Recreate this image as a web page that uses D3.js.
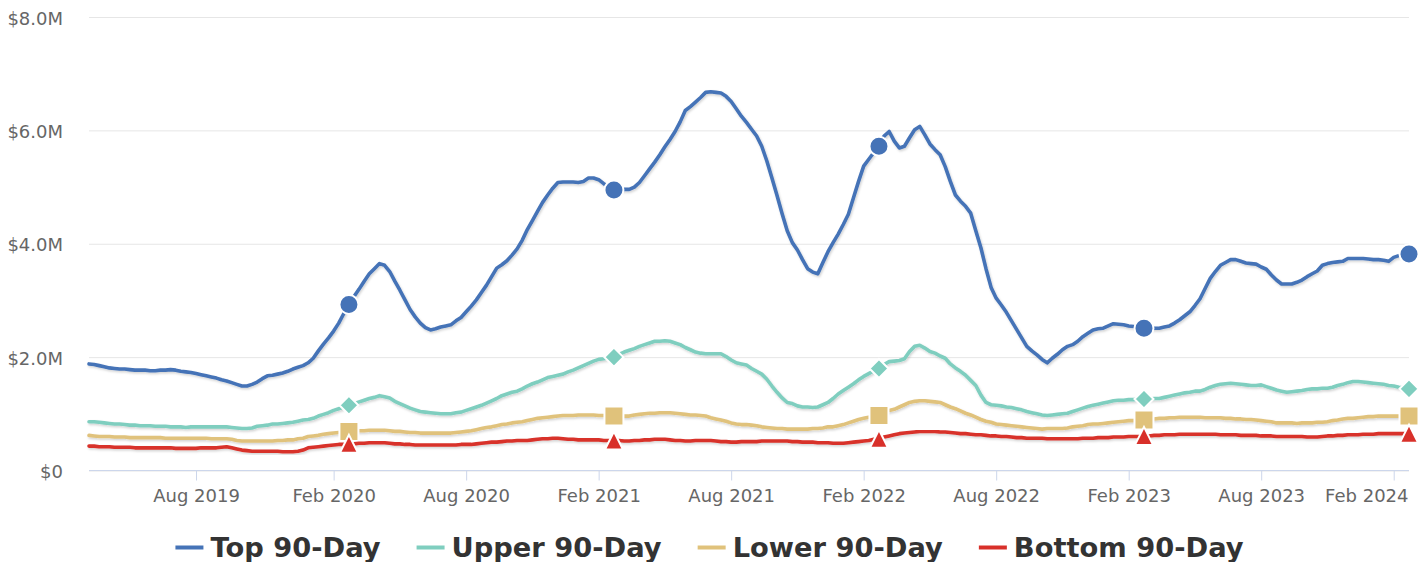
<!DOCTYPE html>
<html>
<head>
<meta charset="utf-8">
<script src="https://cdn.jsdelivr.net/npm/d3@7"></script>
<style>
  html, body { margin: 0; padding: 0; background: #ffffff; }
  svg { display: block; font-family: "DejaVu Sans", sans-serif; }
</style>
</head>
<body>
<svg id="chart" width="1419" height="562"></svg>
<script>
// Weekly 90-day rolling sales by tier, in millions of dollars (first week: 2019-03-07)
const firstWeek = "2019-03-07";

const top90 = [
  1.88,1.87,1.85,1.83,1.81,1.80,1.79,1.79,1.78,1.77,
  1.77,1.77,1.76,1.76,1.77,1.77,1.78,1.77,1.75,1.74,
  1.73,1.71,1.69,1.67,1.65,1.63,1.60,1.58,1.55,1.52,
  1.49,1.49,1.52,1.56,1.62,1.67,1.68,1.70,1.72,1.75,
  1.79,1.82,1.85,1.90,1.98,2.11,2.23,2.34,2.46,2.60,
  2.77,2.93,3.07,3.20,3.34,3.47,3.56,3.65,3.62,3.51,
  3.34,3.18,3.01,2.84,2.71,2.60,2.52,2.48,2.50,2.53,
  2.55,2.57,2.64,2.70,2.80,2.90,3.01,3.14,3.27,3.42,
  3.57,3.63,3.70,3.80,3.91,4.06,4.25,4.41,4.57,4.73,
  4.86,4.98,5.08,5.09,5.09,5.09,5.08,5.10,5.16,5.16,
  5.13,5.06,5.00,4.95,4.95,4.96,4.96,5.00,5.08,5.20,
  5.32,5.44,5.57,5.71,5.84,5.98,6.15,6.35,6.42,6.50,
  6.58,6.67,6.68,6.67,6.66,6.60,6.51,6.38,6.25,6.14,
  6.02,5.90,5.72,5.46,5.16,4.85,4.53,4.23,4.02,3.89,
  3.72,3.56,3.50,3.47,3.67,3.86,4.02,4.17,4.34,4.52,
  4.81,5.10,5.37,5.49,5.61,5.72,5.90,5.98,5.81,5.69,
  5.72,5.87,6.01,6.07,5.92,5.76,5.66,5.57,5.36,5.10,
  4.86,4.75,4.66,4.54,4.23,3.93,3.56,3.23,3.04,2.92,
  2.79,2.64,2.49,2.34,2.19,2.11,2.04,1.96,1.90,1.98,
  2.05,2.13,2.19,2.22,2.28,2.36,2.42,2.48,2.50,2.51,
  2.55,2.59,2.58,2.57,2.55,2.54,2.53,2.51,2.51,2.51,
  2.51,2.53,2.55,2.60,2.66,2.73,2.80,2.91,3.03,3.21,
  3.39,3.51,3.62,3.67,3.72,3.72,3.69,3.66,3.65,3.64,
  3.59,3.55,3.45,3.36,3.29,3.29,3.29,3.32,3.36,3.42,
  3.47,3.52,3.62,3.65,3.67,3.68,3.69,3.74,3.74,3.74,
  3.74,3.73,3.72,3.72,3.71,3.69,3.76,3.79,3.81,3.82
];

const upper90 = [
  0.86,0.86,0.85,0.84,0.83,0.82,0.82,0.81,0.80,0.80,
  0.79,0.79,0.79,0.78,0.78,0.78,0.77,0.77,0.77,0.76,
  0.77,0.77,0.77,0.77,0.77,0.77,0.77,0.77,0.76,0.75,
  0.74,0.74,0.75,0.78,0.79,0.80,0.82,0.82,0.83,0.84,
  0.85,0.87,0.89,0.90,0.92,0.96,0.99,1.02,1.06,1.09,
  1.12,1.15,1.18,1.21,1.24,1.27,1.29,1.32,1.30,1.28,
  1.22,1.18,1.14,1.10,1.07,1.04,1.03,1.02,1.01,1.00,
  1.00,1.00,1.02,1.03,1.06,1.09,1.12,1.15,1.19,1.23,
  1.27,1.32,1.35,1.38,1.40,1.44,1.49,1.53,1.56,1.60,
  1.64,1.66,1.68,1.70,1.74,1.77,1.81,1.85,1.89,1.93,
  1.96,1.97,1.99,2.00,2.05,2.09,2.12,2.15,2.19,2.22,
  2.25,2.28,2.28,2.29,2.28,2.25,2.22,2.17,2.13,2.09,
  2.07,2.06,2.06,2.06,2.06,2.01,1.95,1.90,1.88,1.86,
  1.80,1.75,1.70,1.61,1.49,1.38,1.28,1.20,1.18,1.14,
  1.12,1.12,1.11,1.12,1.16,1.20,1.27,1.35,1.41,1.47,
  1.53,1.60,1.66,1.71,1.76,1.80,1.87,1.92,1.93,1.94,
  1.97,2.10,2.19,2.21,2.16,2.10,2.07,2.02,1.98,1.88,
  1.81,1.75,1.68,1.59,1.50,1.33,1.20,1.16,1.15,1.14,
  1.12,1.11,1.09,1.07,1.04,1.02,1.00,0.98,0.97,0.98,
  0.99,1.00,1.01,1.04,1.07,1.10,1.13,1.15,1.17,1.19,
  1.21,1.23,1.24,1.24,1.25,1.25,1.26,1.26,1.26,1.27,
  1.27,1.29,1.31,1.33,1.35,1.37,1.38,1.40,1.40,1.43,
  1.47,1.50,1.52,1.53,1.54,1.53,1.52,1.51,1.50,1.50,
  1.51,1.48,1.45,1.42,1.40,1.38,1.39,1.40,1.41,1.43,
  1.44,1.44,1.45,1.45,1.47,1.50,1.52,1.55,1.57,1.57,
  1.56,1.55,1.54,1.53,1.52,1.50,1.49,1.47,1.46,1.44
];

const lower90 = [
  0.62,0.61,0.60,0.60,0.60,0.59,0.59,0.59,0.58,0.58,
  0.58,0.58,0.58,0.58,0.58,0.57,0.57,0.57,0.57,0.57,
  0.57,0.57,0.57,0.57,0.56,0.56,0.56,0.56,0.55,0.53,
  0.52,0.52,0.52,0.52,0.52,0.52,0.52,0.53,0.53,0.54,
  0.54,0.56,0.57,0.60,0.61,0.62,0.64,0.65,0.66,0.67,
  0.68,0.69,0.69,0.70,0.70,0.71,0.71,0.71,0.71,0.70,
  0.69,0.69,0.68,0.67,0.67,0.66,0.66,0.66,0.66,0.66,
  0.66,0.66,0.67,0.68,0.69,0.70,0.72,0.74,0.76,0.77,
  0.79,0.81,0.82,0.84,0.85,0.86,0.88,0.90,0.92,0.93,
  0.94,0.95,0.96,0.97,0.97,0.97,0.98,0.98,0.98,0.98,
  0.97,0.97,0.97,0.96,0.96,0.96,0.96,0.98,0.99,1.00,
  1.01,1.01,1.02,1.02,1.02,1.01,1.00,0.99,0.98,0.98,
  0.97,0.96,0.93,0.91,0.89,0.87,0.84,0.82,0.81,0.81,
  0.80,0.79,0.77,0.76,0.75,0.74,0.74,0.73,0.73,0.73,
  0.73,0.73,0.74,0.74,0.75,0.77,0.77,0.79,0.81,0.84,
  0.87,0.90,0.92,0.94,0.95,0.97,1.03,1.06,1.08,1.12,
  1.16,1.20,1.22,1.23,1.23,1.22,1.21,1.20,1.16,1.12,
  1.09,1.05,1.01,0.98,0.94,0.90,0.87,0.85,0.82,0.81,
  0.80,0.79,0.78,0.77,0.76,0.75,0.74,0.73,0.74,0.74,
  0.74,0.74,0.75,0.77,0.78,0.79,0.81,0.82,0.82,0.83,
  0.84,0.85,0.86,0.87,0.88,0.88,0.89,0.89,0.90,0.91,
  0.92,0.92,0.93,0.93,0.94,0.94,0.94,0.94,0.94,0.93,
  0.93,0.93,0.93,0.92,0.92,0.91,0.91,0.90,0.90,0.89,
  0.88,0.87,0.86,0.84,0.84,0.84,0.84,0.83,0.84,0.84,
  0.84,0.85,0.85,0.86,0.88,0.89,0.91,0.92,0.92,0.93,
  0.94,0.95,0.95,0.96,0.96,0.96,0.96,0.96,0.96,0.96
];

const bottom90 = [
  0.43,0.43,0.42,0.42,0.42,0.41,0.41,0.41,0.41,0.40,
  0.40,0.40,0.40,0.40,0.40,0.40,0.40,0.39,0.39,0.39,
  0.39,0.39,0.40,0.40,0.40,0.40,0.41,0.42,0.40,0.38,
  0.36,0.35,0.34,0.34,0.34,0.34,0.34,0.34,0.33,0.33,
  0.33,0.34,0.36,0.40,0.41,0.42,0.43,0.44,0.45,0.46,
  0.46,0.47,0.47,0.48,0.48,0.49,0.49,0.49,0.49,0.48,
  0.47,0.47,0.46,0.46,0.45,0.45,0.45,0.45,0.45,0.45,
  0.45,0.45,0.45,0.46,0.46,0.46,0.47,0.48,0.49,0.50,
  0.50,0.51,0.52,0.52,0.53,0.53,0.53,0.54,0.55,0.56,
  0.56,0.57,0.57,0.56,0.55,0.55,0.54,0.54,0.54,0.54,
  0.54,0.53,0.53,0.53,0.53,0.52,0.52,0.53,0.53,0.54,
  0.54,0.55,0.55,0.55,0.54,0.53,0.53,0.52,0.52,0.53,
  0.53,0.53,0.53,0.52,0.51,0.51,0.50,0.50,0.51,0.51,
  0.51,0.51,0.52,0.52,0.52,0.52,0.52,0.52,0.51,0.51,
  0.50,0.50,0.50,0.49,0.49,0.49,0.48,0.48,0.48,0.49,
  0.50,0.51,0.52,0.53,0.55,0.56,0.59,0.61,0.63,0.65,
  0.66,0.67,0.68,0.69,0.69,0.69,0.69,0.68,0.68,0.67,
  0.66,0.65,0.65,0.64,0.63,0.63,0.62,0.61,0.61,0.60,
  0.60,0.59,0.58,0.58,0.57,0.57,0.57,0.57,0.56,0.56,
  0.56,0.56,0.56,0.56,0.56,0.57,0.57,0.57,0.58,0.58,
  0.58,0.59,0.59,0.59,0.60,0.60,0.60,0.61,0.61,0.62,
  0.62,0.63,0.63,0.63,0.64,0.64,0.64,0.64,0.64,0.64,
  0.64,0.64,0.63,0.63,0.63,0.63,0.62,0.62,0.62,0.62,
  0.61,0.61,0.61,0.60,0.60,0.60,0.60,0.60,0.60,0.59,
  0.59,0.59,0.60,0.61,0.61,0.62,0.62,0.63,0.63,0.63,
  0.64,0.64,0.64,0.65,0.65,0.65,0.65,0.65,0.65,0.65
];

const seriesNames = ["Top 90-Day", "Upper 90-Day", "Lower 90-Day", "Bottom 90-Day"];
const seriesColors = ["#4573b7", "#7fcebf", "#e0c27b", "#d8302a"];
const yTicks = [0, 2, 4, 6, 8];
const xTickLabels = ["Aug 2019", "Feb 2020", "Aug 2020", "Feb 2021", "Aug 2021",
                     "Feb 2022", "Aug 2022", "Feb 2023", "Aug 2023", "Feb 2024"];

// ---------------------------------------------------------------------------
const W = 1419, H = 562;
const plot = { left: 89, right: 1409, top: 17, bottom: 470.5 };

const svg = d3.select("#chart");
const parse = d3.timeParse("%Y-%m-%d");
const fmtTick = d3.timeFormat("%b %Y");
const n = top90.length;
const start = parse(firstWeek);
const weeks = d3.range(n).map(i => d3.timeDay.offset(start, 7 * i));

const x = d3.scalePoint().domain(d3.range(n)).range([plot.left, plot.right]).padding(0);
const y = d3.scaleLinear().domain([0, 8]).range([plot.bottom, plot.top]);

// soft shadow under the lines
const defs = svg.append("defs");
const f = defs.append("filter").attr("id", "lineShadow")
  .attr("x", "-5%").attr("y", "-5%").attr("width", "110%").attr("height", "120%");
f.append("feDropShadow").attr("dx", 1).attr("dy", 1.5).attr("stdDeviation", 1)
  .attr("flood-color", "#000").attr("flood-opacity", 0.18);

// horizontal grid + y labels
const yAxis = d3.axisLeft(y).tickValues(yTicks)
  .tickSize(-(plot.right - plot.left)).tickPadding(26)
  .tickFormat(v => v === 0 ? "$0" : "$" + d3.format(".1f")(v) + "M");
const gy = svg.append("g").attr("transform", `translate(${plot.left},0)`).call(yAxis);
gy.select(".domain").remove();
gy.selectAll(".tick line").attr("stroke", "#e6e6e6").attr("stroke-width", 1);
gy.selectAll(".tick text").attr("fill", "#666666").attr("font-size", 18)
  .attr("font-family", "DejaVu Sans").attr("dy", "0.4em");

// x axis: a tick at the first week of each listed month
const tickIdx = xTickLabels.map(lbl => weeks.findIndex(d => fmtTick(d) === lbl));
const xAxis = d3.axisBottom(x).tickValues(tickIdx).tickSize(10).tickPadding(9)
  .tickFormat(i => fmtTick(weeks[i]));
const gx = svg.append("g").attr("transform", `translate(0,${plot.bottom})`).call(xAxis);
gx.select(".domain").attr("stroke", "#ccd6eb").attr("stroke-width", 1)
  .attr("d", `M${plot.left},0H${plot.right}`);
gx.selectAll(".tick line").attr("stroke", "#ccd6eb");
gx.selectAll(".tick text").attr("fill", "#666666").attr("font-size", 18)
  .attr("font-family", "DejaVu Sans").attr("dy", "0.71em");
// keep the last label inside the plot
gx.selectAll(".tick text").each(function (d) {
  const w = this.getComputedTextLength();
  const cx = x(d);
  if (cx + w / 2 > plot.right - 1) d3.select(this).attr("x", (plot.right - 1) - w / 2 - cx);
});

// marker shapes
const diamond = { draw(ctx, size) { const r = Math.sqrt(size) / 2;
  ctx.moveTo(0, -r); ctx.lineTo(r, 0); ctx.lineTo(0, r); ctx.lineTo(-r, 0); ctx.closePath(); } };
const triangle = { draw(ctx, size) { const r = Math.sqrt(size) / 2;
  ctx.moveTo(0, -r); ctx.lineTo(r, r); ctx.lineTo(-r, r); ctx.closePath(); } };
const markerSymbols = [
  d3.symbol(d3.symbolCircle, Math.PI * 9.5 * 9.5),
  d3.symbol(diamond, 19 * 19),
  d3.symbol(d3.symbolSquare, 19 * 19),
  d3.symbol(triangle, 18 * 18)
];

const seriesValues = [top90, upper90, lower90, bottom90];
const markerIdx = d3.range(n).filter(i => (n - 1 - i) % 52 === 0);

const line = d3.line().x((d, i) => x(i)).y(d => y(d)).curve(d3.curveLinear);

seriesValues.forEach((vals, s) => {
  const g = svg.append("g");
  g.append("path").datum(vals)
    .attr("d", line)
    .attr("fill", "none")
    .attr("stroke", seriesColors[s])
    .attr("stroke-width", 3.6)
    .attr("stroke-linejoin", "round")
    .attr("stroke-linecap", "round")
    .attr("filter", "url(#lineShadow)");
  g.selectAll("path.marker").data(markerIdx).join("path")
    .attr("class", "marker")
    .attr("transform", i => `translate(${x(i)},${y(vals[i])})`)
    .attr("d", markerSymbols[s]())
    .attr("fill", seriesColors[s])
    .attr("stroke", "#ffffff")
    .attr("stroke-width", 2);
});

// legend
const legend = svg.append("g").attr("font-family", "DejaVu Sans").attr("font-weight", "bold");
const items = legend.selectAll("g").data(seriesNames).join("g");
items.append("line").attr("x1", 0).attr("x2", 28).attr("y1", 0).attr("y2", 0)
  .attr("stroke", (d, i) => seriesColors[i]).attr("stroke-width", 4);
items.append("text").attr("x", 35).attr("y", 9.8).attr("font-size", 27.3)
  .attr("fill", "#333333").text(d => d);
const widths = [];
items.each(function () {
  const w = 35 + d3.select(this).select("text").node().getComputedTextLength();
  widths.push(w);
});
const gap = 36;
const total = d3.sum(widths) + gap * (widths.length - 1);
let cx = (W - total) / 2;
items.attr("transform", (d, i) => {
  const t = `translate(${cx},547.5)`;
  cx += widths[i] + gap;
  return t;
});
</script>
</body>
</html>
